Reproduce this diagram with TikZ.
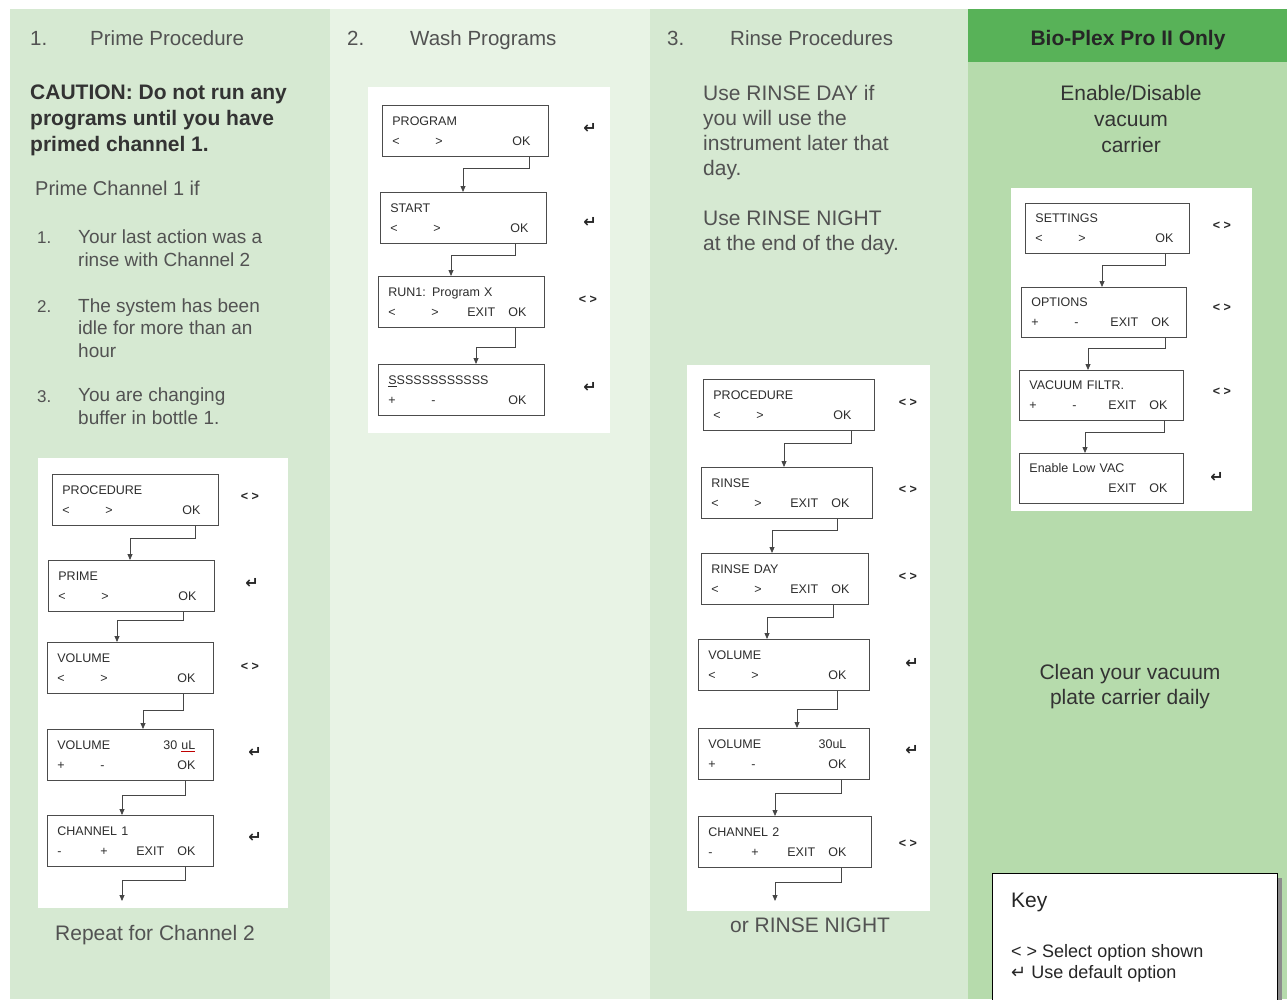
\documentclass[tikz,border=0pt]{standalone}
\usepackage{fontspec}
\setmainfont{Liberation Sans}
\newfontfamily\symfont{DejaVu Sans}
\usetikzlibrary{arrows.meta,positioning}

\definecolor{colA}{RGB}{214,233,210}
\definecolor{colB}{RGB}{232,243,229}
\definecolor{colC}{RGB}{182,219,172}
\definecolor{headgreen}{RGB}{88,178,88}
\definecolor{txtgray}{RGB}{82,82,82}
\definecolor{lcdink}{RGB}{45,45,45}
\definecolor{flowgray}{RGB}{70,70,70}

% two text lines of one instrument screen
\newcommand{\lcdscreen}[6]{%
  \makebox[138pt][l]{#1\hfill#2}\\
  \makebox[43pt][l]{#3}\makebox[36pt][l]{#4}\makebox[40pt][l]{#5}\makebox[19pt][r]{#6}}
\newcommand{\enterkey}{{\symfont\bfseries\fontsize{16}{18}\selectfont ↵}}

\tikzset{
  lcd/.style={draw=black!70, line width=0.8pt, fill=white, anchor=north west,
    text width=146pt, align=left, inner xsep=10pt, inner ysep=0pt,
    minimum height=51pt, font=\fontsize{12.5}{20}\selectfont, text=lcdink},
  flowline/.style={draw=flowgray, line width=0.8pt, -{Triangle[length=6pt,width=5pt]}},
  keysym/.style={inner sep=0pt, font=\fontsize{12.5}{14}\selectfont\bfseries, text=black!85},
  headtxt/.style={anchor=base west, inner sep=0pt, font=\fontsize{20.5}{25}\selectfont, text=txtgray},
  bodytxt/.style={anchor=base west, inner sep=0pt, align=left, font=\fontsize{19}{22.5}\selectfont, text=txtgray},
  notetxt/.style={anchor=base, inner sep=0pt, align=center, font=\fontsize{21}{26}\selectfont, text=black!80}
}

\begin{document}
\begin{tikzpicture}[x=1pt,y=-1pt]
  \useasboundingbox (0,0) rectangle (1287,999);
  \clip (0,0) rectangle (1287,999);
  \fill[white] (0,0) rectangle (1287,999);

  % columns
  \fill[colA] (10,9) rectangle (330,999);
  \fill[colB] (330,9) rectangle (650,999);
  \fill[colA] (650,9) rectangle (968,999);
  \fill[colC] (968,9) rectangle (1287,999);
  \fill[headgreen] (968,9) rectangle (1287,62);

  % white panels behind the screens
  \fill[white] (38,458) rectangle (288,908);
  \fill[white] (368,87) rectangle (610,433);
  \fill[white] (687,365) rectangle (930,911);
  \fill[white] (1011,188) rectangle (1252,511);

  %% 1. Prime Procedure  (multi-line texts sit on their last baseline)
  \node[headtxt] (prNum) at (30,45) {1.};
  \node[headtxt] (prHead) at (90,45) {Prime Procedure};
  \node[bodytxt, font=\fontsize{21}{26}\selectfont\bfseries, text=black!80] (prWarn) at (30,151)
    {CAUTION: Do not run any\\programs until you have\\primed channel 1.};
  \node[bodytxt, font=\fontsize{20}{24}\selectfont] (prIf) at (35,195) {Prime Channel 1 if};
  \node[bodytxt, font=\fontsize{17}{20}\selectfont] (prNumA) at (37,243) {1.};
  \node[bodytxt] (prItemA) at (78,266) {Your last action was a\\rinse with Channel 2};
  \node[bodytxt, font=\fontsize{17}{20}\selectfont] (prNumB) at (37,312) {2.};
  \node[bodytxt] (prItemB) at (78,357) {The system has been\\idle for more than an\\hour};
  \node[bodytxt, font=\fontsize{17}{20}\selectfont] (prNumC) at (37,402) {3.};
  \node[bodytxt] (prItemC) at (78,424) {You are changing\\buffer in bottle 1.};

  \node[lcd] (prProc) at (52,474) {\lcdscreen{PROCEDURE}{}{<}{>}{}{OK}};
  \node[lcd] (prPrime) at (48,560) {\lcdscreen{PRIME}{}{<}{>}{}{OK}};
  \node[lcd] (prVol) at (47,642) {\lcdscreen{VOLUME}{}{<}{>}{}{OK}};
  \node[lcd] (prVolSet) at (47,729)
    {\lcdscreen{VOLUME}{30 {\color{red!75!black}\underline{\textcolor{lcdink}{uL}}}}{+}{-}{}{OK}};
  \node[lcd] (prChan) at (47,815) {\lcdscreen{CHANNEL 1}{}{-}{+}{EXIT}{OK}};
  \coordinate (prNext) at (122,901);

  \node[keysym] (prProcKey) at (250,497) {< >};
  \node[keysym] (prPrimeKey) at (252,583) {\enterkey};
  \node[keysym] (prVolKey) at (250,667) {< >};
  \node[keysym] (prVolSetKey) at (255,752) {\enterkey};
  \node[keysym] (prChanKey) at (255,837) {\enterkey};

  \draw[flowline] ([xshift=143pt]prProc.south west) -- ++(0,13) -| ([xshift=82pt]prPrime.north west);
  \draw[flowline] ([xshift=135pt]prPrime.south west) -- ++(0,9) -| ([xshift=70pt]prVol.north west);
  \draw[flowline] ([xshift=136pt]prVol.south west) -- ++(0,17) -| ([xshift=96pt]prVolSet.north west);
  \draw[flowline] ([xshift=138pt]prVolSet.south west) -- ++(0,15) -| ([xshift=75pt]prChan.north west);
  \draw[flowline] ([xshift=138pt]prChan.south west) -- ++(0,14) -| (prNext);

  \node[bodytxt, font=\fontsize{21}{25}\selectfont] (prRepeat) at (55,940) {Repeat for Channel 2};

  %% 2. Wash Programs
  \node[headtxt] (waNum) at (347,45) {2.};
  \node[headtxt] (waHead) at (410,45) {Wash Programs};

  \node[lcd] (waProg) at (382,105) {\lcdscreen{PROGRAM}{}{<}{>}{}{OK}};
  \node[lcd] (waStart) at (380,192) {\lcdscreen{START}{}{<}{>}{}{OK}};
  \node[lcd] (waRun) at (378,276) {\lcdscreen{RUN1: Program X}{}{<}{>}{EXIT}{OK}};
  \node[lcd] (waName) at (378,364) {\lcdscreen{\underline{S}SSSSSSSSSSS}{}{+}{-}{}{OK}};

  \node[keysym] (waProgKey) at (590,128) {\enterkey};
  \node[keysym] (waStartKey) at (590,222) {\enterkey};
  \node[keysym] (waRunKey) at (588,300) {< >};
  \node[keysym] (waNameKey) at (590,387) {\enterkey};

  \draw[flowline] ([xshift=147pt]waProg.south west) -- ++(0,12) -| ([xshift=83pt]waStart.north west);
  \draw[flowline] ([xshift=135pt]waStart.south west) -- ++(0,12) -| ([xshift=73pt]waRun.north west);
  \draw[flowline] ([xshift=137pt]waRun.south west) -- ++(0,20) -| ([xshift=98pt]waName.north west);

  %% 3. Rinse Procedures
  \node[headtxt] (riNum) at (667,45) {3.};
  \node[headtxt] (riHead) at (730,45) {Rinse Procedures};
  \node[bodytxt, font=\fontsize{21}{25}\selectfont] (riDayNote) at (703,175)
    {Use RINSE DAY if\\you will use the\\instrument later that\\day.};
  \node[bodytxt, font=\fontsize{21}{25}\selectfont] (riNightNote) at (703,250)
    {Use RINSE NIGHT\\at the end of the day.};

  \node[lcd, text width=151pt] (riProc) at (703,379) {\lcdscreen{PROCEDURE}{}{<}{>}{}{OK}};
  \node[lcd, text width=151pt] (riRinse) at (701,467) {\lcdscreen{RINSE}{}{<}{>}{EXIT}{OK}};
  \node[lcd, text width=147pt] (riDay) at (701,553) {\lcdscreen{RINSE DAY}{}{<}{>}{EXIT}{OK}};
  \node[lcd, text width=151pt] (riVol) at (698,639) {\lcdscreen{VOLUME}{}{<}{>}{}{OK}};
  \node[lcd, text width=151pt] (riVolSet) at (698,728) {\lcdscreen{VOLUME}{30uL}{+}{-}{}{OK}};
  \node[lcd, text width=153pt] (riChan) at (698,816) {\lcdscreen{CHANNEL 2}{}{-}{+}{EXIT}{OK}};
  \coordinate (riNext) at (775,901);

  \node[keysym] (riProcKey) at (908,403) {< >};
  \node[keysym] (riRinseKey) at (908,490) {< >};
  \node[keysym] (riDayKey) at (908,577) {< >};
  \node[keysym] (riVolKey) at (912,663) {\enterkey};
  \node[keysym] (riVolSetKey) at (912,750) {\enterkey};
  \node[keysym] (riChanKey) at (908,844) {< >};

  \draw[flowline] ([xshift=148pt]riProc.south west) -- ++(0,13) -| ([xshift=83pt]riRinse.north west);
  \draw[flowline] ([xshift=136pt]riRinse.south west) -- ++(0,12) -| ([xshift=71pt]riDay.north west);
  \draw[flowline] ([xshift=132pt]riDay.south west) -- ++(0,13) -| ([xshift=69pt]riVol.north west);
  \draw[flowline] ([xshift=139pt]riVol.south west) -- ++(0,19) -| ([xshift=99pt]riVolSet.north west);
  \draw[flowline] ([xshift=143pt]riVolSet.south west) -- ++(0,14) -| ([xshift=77pt]riChan.north west);
  \draw[flowline] ([xshift=143pt]riChan.south west) -- ++(0,15) -| (riNext);

  \node[bodytxt, font=\fontsize{21}{25}\selectfont] (riOr) at (730,932) {or RINSE NIGHT};

  %% Bio-Plex Pro II only
  \node[notetxt, font=\fontsize{21}{26}\selectfont\bfseries, text=black!85] (vaHead) at (1128,45) {Bio-Plex Pro II Only};
  \node[notetxt] (vaNote) at (1131,152) {Enable/Disable\\vacuum\\carrier};

  \node[lcd, minimum height=50pt, text width=144pt] (vaSet) at (1025,203) {\lcdscreen{SETTINGS}{}{<}{>}{}{OK}};
  \node[lcd, minimum height=50pt, text width=145pt] (vaOpt) at (1021,287) {\lcdscreen{OPTIONS}{}{+}{-}{EXIT}{OK}};
  \node[lcd, minimum height=50pt, text width=144pt] (vaFilt) at (1019,370) {\lcdscreen{VACUUM FILTR.}{}{+}{-}{EXIT}{OK}};
  \node[lcd, minimum height=50pt, text width=144pt] (vaLow) at (1019,453) {\lcdscreen{Enable Low VAC}{}{}{}{EXIT}{OK}};

  \node[keysym] (vaSetKey) at (1222,226) {< >};
  \node[keysym] (vaOptKey) at (1222,308) {< >};
  \node[keysym] (vaFiltKey) at (1222,392) {< >};
  \node[keysym] (vaLowKey) at (1217,477) {\enterkey};

  \draw[flowline] ([xshift=140pt]vaSet.south west) -- ++(0,12) -| ([xshift=81pt]vaOpt.north west);
  \draw[flowline] ([xshift=144pt]vaOpt.south west) -- ++(0,11) -| ([xshift=69pt]vaFilt.north west);
  \draw[flowline] ([xshift=145pt]vaFilt.south west) -- ++(0,12) -| ([xshift=66pt]vaLow.north west);

  \node[notetxt, font=\fontsize{21}{25}\selectfont] (vaClean) at (1130,704) {Clean your vacuum\\plate carrier daily};

  % key
  \fill[black!45] (997,878) rectangle (1282,1010);
  \draw[fill=white, line width=0.8pt] (992,873) rectangle (1277,1010);
  \node[bodytxt, font=\fontsize{21}{25}\selectfont, text=black!85] (keyHead) at (1011,907) {Key};
  \node[bodytxt, font=\fontsize{18}{21}\selectfont, text=black!85] (keyList) at (1011,978)
    {< > Select option shown\\{\symfont ↵} Use default option};
\end{tikzpicture}
\end{document}
